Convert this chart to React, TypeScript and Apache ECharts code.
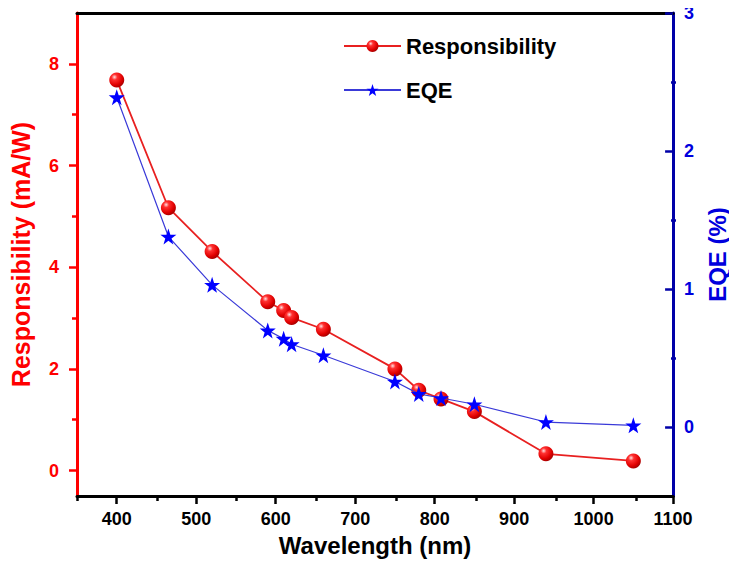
import React, { useEffect, useRef } from "react";
import * as echarts from "echarts";

const wavelengths = [400, 465, 520, 590, 610, 620, 660, 750, 780, 808, 850, 940, 1050];
const responsibility = [7.68, 5.17, 4.31, 3.32, 3.15, 3.01, 2.78, 2.0, 1.58, 1.41, 1.16, 0.33, 0.19];
const eqe = [2.39, 1.38, 1.03, 0.7, 0.64, 0.6, 0.52, 0.33, 0.24, 0.21, 0.165, 0.036, 0.012];

const xMajor = [400, 500, 600, 700, 800, 900, 1000, 1100];
const xMinor = [350, 450, 550, 650, 750, 850, 950, 1050];
const leftMajor = [0, 2, 4, 6, 8];
const leftMinor = [1, 3, 5, 7];
const rightMajor = [0, 1, 2, 3];
const rightMinor = [0.5, 1.5, 2.5];

const FONT = "Liberation Sans, Arial, sans-serif";
const RED = "#ff0000";
const BLUE = "#0000dd";
const BLUE_AXIS = "#0000a8";

const STAR =
  "path://M50,0 L61.8,35.1 L98.1,35.1 L68.8,56.8 L79.4,91.0 L50,70 L20.6,91 L31.2,56.8 L1.9,35.1 L38.2,35.1 Z";

const fmt = (v: number) => String(v);
const GRID = { left: 77, right: 61, top: 13, bottom: 71 };

export default function App() {
  const ref = useRef<HTMLDivElement>(null);
  useEffect(() => {
    if (!ref.current) return;
    const chart = echarts.init(ref.current, null, { renderer: "svg" });
    const sphere = new echarts.graphic.RadialGradient(0.35, 0.3, 0.75, [
      { offset: 0, color: "#ffe0e0" },
      { offset: 0.25, color: "#ff3030" },
      { offset: 0.7, color: "#e00000" },
      { offset: 1, color: "#a00000" },
    ]);
    chart.setOption({
      animation: false,
      backgroundColor: "#ffffff",
      grid: [{ ...GRID }, { ...GRID }],
      legend: {
        orient: "vertical",
        left: 338,
        top: 30,
        itemWidth: 57,
        itemHeight: 15,
        itemGap: 22,
        textStyle: { fontFamily: FONT, fontWeight: "bold", fontSize: 22, color: "#000" },
        data: ["Responsibility", "EQE"],
      },
      xAxis: [
        {
          type: "value",
          gridIndex: 0,
          min: 350,
          max: 1100,
          position: "bottom",
          name: "Wavelength (nm)",
          nameLocation: "middle",
          nameGap: 37,
          nameTextStyle: { fontFamily: FONT, fontWeight: "bold", fontSize: 24, color: "#000" },
          axisLine: { show: true, onZero: false, lineStyle: { color: "#000", width: 3 } },
          axisTick: { show: true, customValues: xMajor, length: 8, lineStyle: { color: "#000", width: 2.5 } },
          axisLabel: {
            customValues: xMajor,
            formatter: fmt,
            margin: 14,
            fontFamily: FONT,
            fontWeight: "bold",
            fontSize: 18,
            color: "#000",
          },
          splitLine: { show: false },
        },
        {
          type: "value",
          gridIndex: 0,
          min: 350,
          max: 1100,
          position: "top",
          axisLine: { show: true, onZero: false, lineStyle: { color: "#000", width: 3 } },
          axisTick: { show: false },
          axisLabel: { show: false },
          splitLine: { show: false },
        },
        {
          type: "value",
          gridIndex: 1,
          min: 350,
          max: 1100,
          position: "bottom",
          axisLine: { show: false, onZero: false },
          axisTick: { show: true, customValues: xMinor, length: 5, lineStyle: { color: "#000", width: 2.5 } },
          axisLabel: { show: false },
          splitLine: { show: false },
        },
      ],
      yAxis: [
        {
          type: "value",
          gridIndex: 0,
          min: -0.5,
          max: 9,
          position: "left",
          name: "Responsibility (mA/W)",
          nameLocation: "middle",
          nameGap: 44,
          nameTextStyle: { fontFamily: FONT, fontWeight: "bold", fontSize: 25, color: RED },
          axisLine: { show: true, onZero: false, lineStyle: { color: RED, width: 3 } },
          axisTick: { show: true, customValues: leftMajor, length: 8, lineStyle: { color: RED, width: 2.5 } },
          axisLabel: {
            customValues: leftMajor,
            formatter: fmt,
            margin: 18,
            fontFamily: FONT,
            fontWeight: "bold",
            fontSize: 18,
            color: RED,
          },
          splitLine: { show: false },
        },
        {
          type: "value",
          gridIndex: 0,
          min: -0.5,
          max: 3,
          position: "right",
          name: "EQE (%)",
          nameLocation: "middle",
          nameGap: 30,
          nameRotate: 90,
          nameTextStyle: { fontFamily: FONT, fontWeight: "bold", fontSize: 24, color: BLUE },
          axisLine: { show: true, onZero: false, lineStyle: { color: BLUE_AXIS, width: 3 } },
          axisTick: {
            show: true,
            inside: true,
            customValues: rightMajor,
            length: 8,
            lineStyle: { color: BLUE_AXIS, width: 2.5 },
          },
          axisLabel: {
            customValues: rightMajor,
            formatter: fmt,
            margin: 11,
            fontFamily: FONT,
            fontWeight: "bold",
            fontSize: 18,
            color: BLUE,
          },
          splitLine: { show: false },
        },
        {
          type: "value",
          gridIndex: 1,
          min: -0.5,
          max: 9,
          position: "left",
          axisLine: { show: false, onZero: false },
          axisTick: { show: true, customValues: leftMinor, length: 5, lineStyle: { color: RED, width: 2.5 } },
          axisLabel: { show: false },
          splitLine: { show: false },
        },
        {
          type: "value",
          gridIndex: 1,
          min: -0.5,
          max: 3,
          position: "right",
          axisLine: { show: false, onZero: false },
          axisTick: {
            show: true,
            inside: true,
            customValues: rightMinor,
            length: 5,
            lineStyle: { color: BLUE_AXIS, width: 2.5 },
          },
          axisLabel: { show: false },
          splitLine: { show: false },
        },
      ],
      series: [
        {
          name: "Responsibility",
          type: "line",
          xAxisIndex: 0,
          yAxisIndex: 0,
          data: wavelengths.map((w, i) => [w, responsibility[i]]),
          symbol: "circle",
          symbolSize: 15,
          lineStyle: { color: "#e82020", width: 1.8 },
          itemStyle: { color: sphere, borderWidth: 0 },
          z: 2,
        },
        {
          name: "EQE",
          type: "line",
          xAxisIndex: 0,
          yAxisIndex: 1,
          data: wavelengths.map((w, i) => [w, eqe[i]]),
          symbol: STAR,
          symbolSize: 16,
          lineStyle: { color: "#3a3ad8", width: 1.2 },
          itemStyle: { color: "#0000ff", borderWidth: 0 },
          z: 3,
        },
      ],
    });
    return () => chart.dispose();
  }, []);
  return <div ref={ref} style={{ width: 737, height: 567, margin: -8 }} />;
}
